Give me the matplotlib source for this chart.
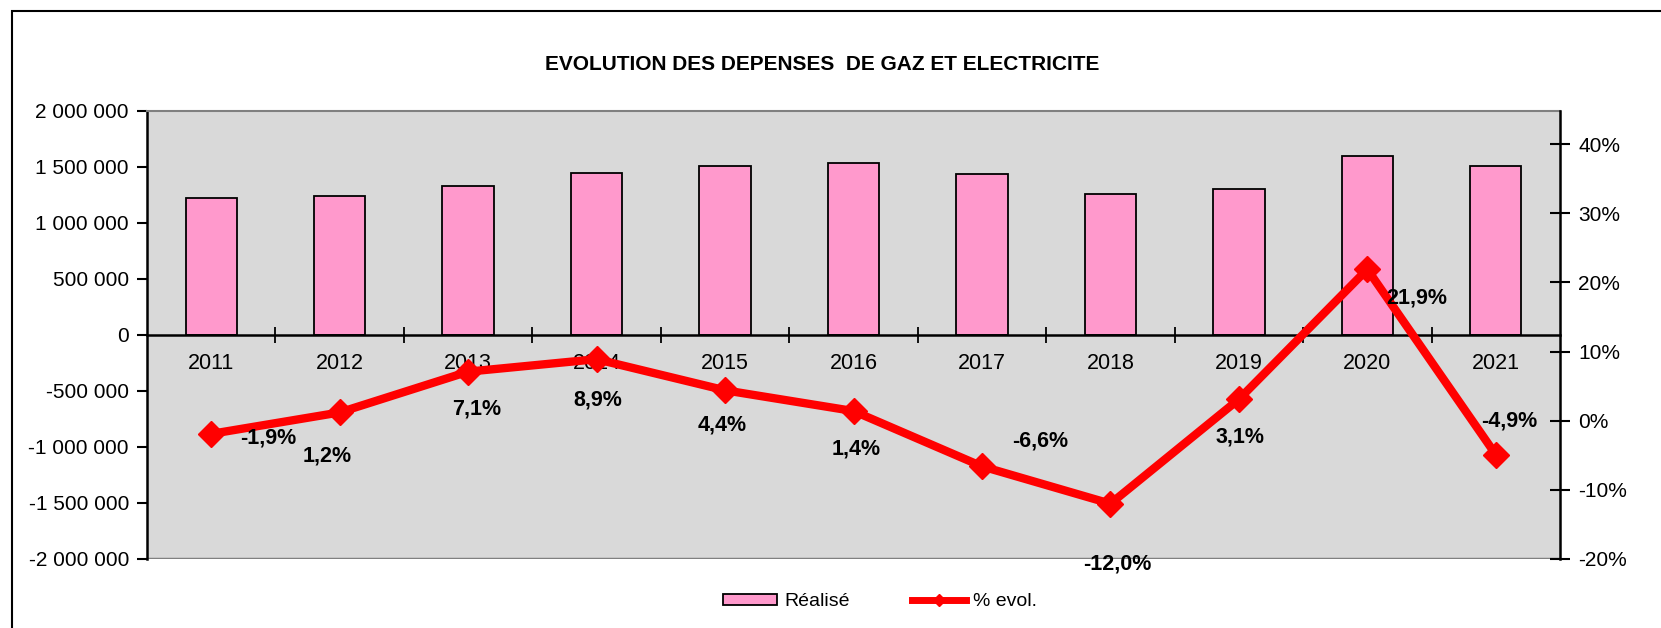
import numpy as np
import matplotlib
matplotlib.use("Agg")
import matplotlib.pyplot as plt
from matplotlib.patches import Rectangle, Patch
from matplotlib.lines import Line2D
from matplotlib.ticker import FuncFormatter, FixedLocator

plt.rcParams['font.family'] = ['Liberation Sans', 'DejaVu Sans']

# data
years = ['2011', '2012', '2013', '2014', '2015', '2016', '2017', '2018', '2019', '2020', '2021']
realise = [1220000, 1240000, 1330000, 1450000, 1510000, 1540000, 1435000, 1260000, 1305000, 1595000, 1510000]
evol_pct = [-1.9, 1.2, 7.1, 8.9, 4.4, 1.4, -6.6, -12.0, 3.1, 21.9, -4.9]

# where each % label sits relative to its marker (pixels, x right / y up)
label_offsets = [(57, -4), (-12, -44), (9, -37), (1, -41), (-3, -35), (3, -38),
                 (58, 25), (7, -60), (1, -38), (49, -29), (13, 34)]

W, H = 1661, 628
fig = plt.figure(figsize=(W / 100, H / 100), dpi=100)
ax = fig.add_axes([147 / W, 1 - 559 / H, (1560 - 147) / W, 448 / H])
ax.set_facecolor('#D9D9D9')

x = np.arange(len(years))
ax.bar(x, realise, width=0.4, color='#FF99CC', edgecolor='black', linewidth=1.3, zorder=2)
ax.set_xlim(-0.5, len(years) - 0.5)
ax.set_ylim(-2000000, 2000000)
ax.set_yticks(np.arange(-2000000, 2000001, 500000))
ax.yaxis.set_major_formatter(FuncFormatter(lambda v, p: f"{int(v):,}".replace(",", " ")))

# category axis on the zero line
ax.spines['bottom'].set_position(('data', 0))
ax.spines['bottom'].set_linewidth(1.8)
ax.spines['bottom'].set_zorder(3)
ax.set_xticks(x)
ax.set_xticklabels(years)
ax.xaxis.set_minor_locator(FixedLocator(np.arange(0.5, len(years) - 0.5, 1)))
ax.tick_params(axis='x', which='major', length=0, pad=13, labelsize=15.5)
ax.tick_params(axis='x', which='minor', direction='inout', length=12, width=1.3)
ax.tick_params(axis='y', direction='out', length=7, width=1.5, pad=6, labelsize=15)
ax.spines['left'].set_linewidth(1.8)
ax.spines['top'].set_color('#808080')
ax.spines['top'].set_linewidth(1.5)
ax.spines['right'].set_visible(False)
ax.axhline(-2000000, color='#808080', linewidth=2.5, zorder=1)

ax2 = ax.twinx()
pct = np.array(evol_pct) / 100
ax2.plot(x, pct, color='#FF0000', linewidth=6, marker='D', markersize=13,
         markeredgewidth=1, zorder=4)
ax2.set_ylim(-0.20, 0.448)
ax2.set_yticks(np.arange(-0.2, 0.41, 0.1))
ax2.yaxis.set_major_formatter(FuncFormatter(lambda v, p: f"{int(round(v * 100))}%"))
ax2.tick_params(axis='y', direction='inout', length=14, width=1.5, pad=6, labelsize=15)
for s in ['left', 'top', 'bottom']:
    ax2.spines[s].set_visible(False)
ax2.spines['right'].set_linewidth(1.8)

for xi, p, v, off in zip(x, pct, evol_pct, label_offsets):
    ax2.annotate(f"{v:.1f}%".replace(".", ","), (xi, p), xytext=off,
                 textcoords='offset pixels', ha='center', va='center',
                 fontsize=15.5, fontweight='bold', zorder=5, annotation_clip=False)

fig.text(822 / W, 1 - 64 / H, "EVOLUTION DES DEPENSES  DE GAZ ET ELECTRICITE",
         ha='center', va='center', fontsize=15, fontweight='bold')

handles = [Patch(facecolor='#FF99CC', edgecolor='black', linewidth=1.3),
           Line2D([0], [0], color='#FF0000', linewidth=5, marker='D', markersize=6)]
fig.legend(handles, ['Réalisé', '% evol.'], loc='center', bbox_to_anchor=(0.530, 26 / H),
           ncol=2, frameon=False, fontsize=14, handlelength=2.75, handleheight=0.55,
           handletextpad=0.4, columnspacing=3.2)

# outer chart frame (only top and left edges fall inside the picture)
fig.patches.append(Rectangle((12 / W, -0.1), 1.2, 1.1 - 11 / H, transform=fig.transFigure,
                             fill=False, edgecolor='black', linewidth=1.5))

fig.savefig('out.png', dpi=100)
